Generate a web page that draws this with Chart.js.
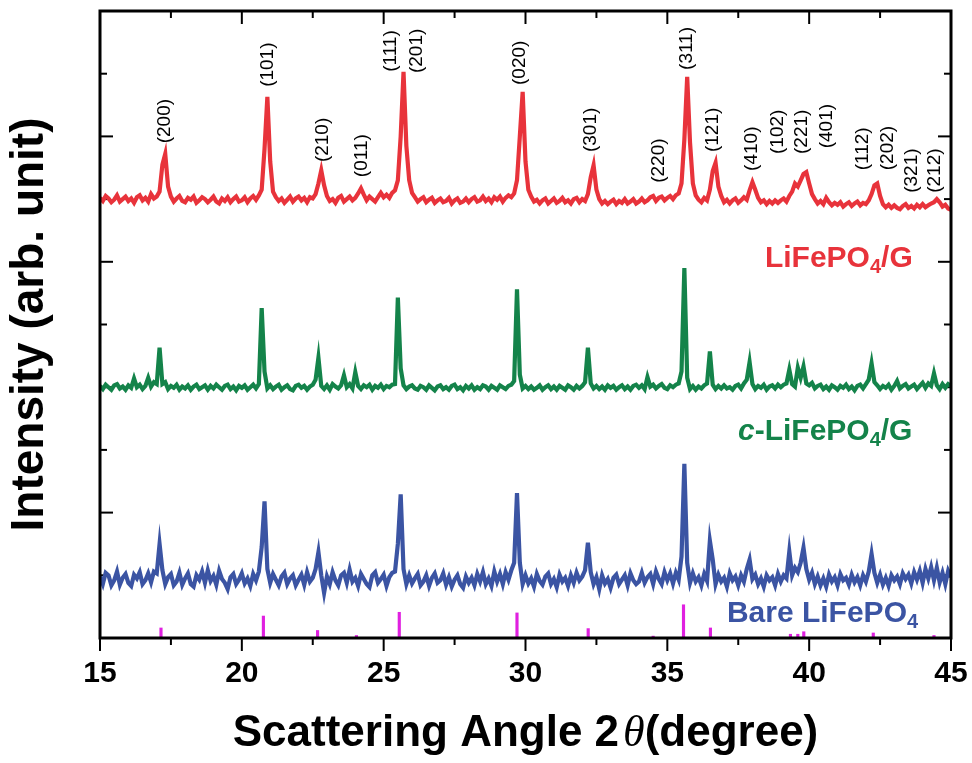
<!DOCTYPE html>
<html>
<head>
<meta charset="utf-8">
<script src="https://cdn.jsdelivr.net/npm/chart.js@4.4.0/dist/chart.umd.min.js"></script>
<style>
  html, body { margin: 0; padding: 0; background: #fff; }
</style>
</head>
<body>
<canvas id="xrd" width="972" height="763"></canvas>
<script>
// scan angles 2theta (deg), 0.1 deg step, one row per degree
const scanAngles = [
  15.0,15.1,15.2,15.3,15.4,15.5,15.6,15.7,15.8,15.9,
  16.0,16.1,16.2,16.3,16.4,16.5,16.6,16.7,16.8,16.9,
  17.0,17.1,17.2,17.3,17.4,17.5,17.6,17.7,17.8,17.9,
  18.0,18.1,18.2,18.3,18.4,18.5,18.6,18.7,18.8,18.9,
  19.0,19.1,19.2,19.3,19.4,19.5,19.6,19.7,19.8,19.9,
  20.0,20.1,20.2,20.3,20.4,20.5,20.6,20.7,20.8,20.9,
  21.0,21.1,21.2,21.3,21.4,21.5,21.6,21.7,21.8,21.9,
  22.0,22.1,22.2,22.3,22.4,22.5,22.6,22.7,22.8,22.9,
  23.0,23.1,23.2,23.3,23.4,23.5,23.6,23.7,23.8,23.9,
  24.0,24.1,24.2,24.3,24.4,24.5,24.6,24.7,24.8,24.9,
  25.0,25.1,25.2,25.3,25.4,25.5,25.6,25.7,25.8,25.9,
  26.0,26.1,26.2,26.3,26.4,26.5,26.6,26.7,26.8,26.9,
  27.0,27.1,27.2,27.3,27.4,27.5,27.6,27.7,27.8,27.9,
  28.0,28.1,28.2,28.3,28.4,28.5,28.6,28.7,28.8,28.9,
  29.0,29.1,29.2,29.3,29.4,29.5,29.6,29.7,29.8,29.9,
  30.0,30.1,30.2,30.3,30.4,30.5,30.6,30.7,30.8,30.9,
  31.0,31.1,31.2,31.3,31.4,31.5,31.6,31.7,31.8,31.9,
  32.0,32.1,32.2,32.3,32.4,32.5,32.6,32.7,32.8,32.9,
  33.0,33.1,33.2,33.3,33.4,33.5,33.6,33.7,33.8,33.9,
  34.0,34.1,34.2,34.3,34.4,34.5,34.6,34.7,34.8,34.9,
  35.0,35.1,35.2,35.3,35.4,35.5,35.6,35.7,35.8,35.9,
  36.0,36.1,36.2,36.3,36.4,36.5,36.6,36.7,36.8,36.9,
  37.0,37.1,37.2,37.3,37.4,37.5,37.6,37.7,37.8,37.9,
  38.0,38.1,38.2,38.3,38.4,38.5,38.6,38.7,38.8,38.9,
  39.0,39.1,39.2,39.3,39.4,39.5,39.6,39.7,39.8,39.9,
  40.0,40.1,40.2,40.3,40.4,40.5,40.6,40.7,40.8,40.9,
  41.0,41.1,41.2,41.3,41.4,41.5,41.6,41.7,41.8,41.9,
  42.0,42.1,42.2,42.3,42.4,42.5,42.6,42.7,42.8,42.9,
  43.0,43.1,43.2,43.3,43.4,43.5,43.6,43.7,43.8,43.9,
  44.0,44.1,44.2,44.3,44.4,44.5,44.6,44.7,44.8,44.9,
  45.0
];

// LiFePO4/G (offset intensity)
const redCounts = [
  7.02,6.97,7.05,7.01,6.95,6.99,7.06,6.96,7.00,7.04,
  6.97,7.01,6.94,7.03,7.06,6.98,7.02,6.96,7.08,7.01,
  7.04,7.12,7.55,7.72,7.20,7.04,6.96,7.01,7.05,6.97,
  6.95,7.02,6.99,7.04,6.94,6.98,7.03,7.00,6.95,6.99,
  7.04,6.96,6.93,7.01,6.97,7.03,6.95,7.00,7.04,6.96,
  6.98,7.03,6.95,7.01,7.05,6.99,7.06,7.15,7.80,8.63,
  7.60,7.12,7.03,6.97,7.01,6.94,6.99,7.04,6.96,7.01,
  7.04,6.98,7.02,6.95,7.03,7.01,7.08,7.25,7.46,7.22,
  7.05,6.97,7.00,6.94,7.02,7.05,6.96,7.00,7.04,6.98,
  7.02,7.09,7.17,7.07,6.98,7.04,7.00,6.96,7.03,7.10,
  7.03,7.07,7.02,7.10,7.14,7.30,8.00,9.03,7.85,7.30,
  7.10,7.03,6.96,7.00,7.03,6.95,6.99,7.02,6.94,6.98,
  7.01,6.95,6.97,7.02,6.93,6.98,7.01,6.94,6.96,7.01,
  6.95,7.00,7.03,6.96,6.98,7.04,6.97,7.01,6.95,7.03,
  6.99,7.04,6.96,7.02,7.06,7.03,7.09,7.30,8.00,8.71,
  7.60,7.15,7.04,6.96,6.99,6.93,6.98,7.01,6.93,6.97,
  7.01,6.94,6.97,7.02,6.95,6.98,6.93,7.00,7.02,6.95,
  7.00,6.97,7.08,7.35,7.54,7.15,7.00,6.93,6.97,6.92,
  6.96,6.99,6.92,6.97,6.94,7.00,6.93,6.96,7.00,6.93,
  6.96,7.01,6.95,6.98,7.03,7.05,6.97,7.02,7.04,6.98,
  7.02,7.05,7.00,7.06,7.09,7.25,7.95,8.95,7.90,7.25,
  7.06,6.99,6.95,7.02,6.98,7.15,7.45,7.58,7.20,7.05,
  6.95,6.99,6.93,6.98,7.01,6.94,6.98,7.03,6.99,7.14,
  7.27,7.15,7.02,6.95,6.98,6.92,6.97,6.93,6.98,6.94,
  6.98,7.01,6.96,7.05,7.12,7.25,7.20,7.30,7.40,7.43,
  7.25,7.08,7.00,6.93,6.97,6.92,7.02,6.95,6.90,6.94,
  6.91,6.95,6.88,6.92,6.95,6.89,6.93,6.96,6.90,6.94,
  6.92,6.98,7.08,7.22,7.25,7.05,6.92,6.87,6.91,6.86,
  6.90,6.86,6.84,6.89,6.92,6.86,6.89,6.85,6.91,6.87,
  6.92,6.87,6.90,6.93,6.95,7.00,6.95,6.88,6.91,6.85,
  6.83
];

// c-LiFePO4/G
const greenCounts = [
  4.02,3.97,4.04,4.00,3.96,4.03,4.05,3.98,4.01,3.96,
  4.03,3.99,4.14,4.00,4.04,3.97,4.02,4.15,4.01,4.08,
  4.05,4.63,4.05,4.08,3.97,4.02,3.99,4.04,3.96,4.01,
  3.98,4.03,3.96,4.01,4.04,3.97,4.00,4.03,3.96,4.02,
  3.98,4.04,4.00,3.96,4.02,4.04,3.97,4.01,3.95,4.02,
  3.99,4.03,3.96,4.00,4.04,3.98,4.05,5.26,4.25,3.98,
  4.03,3.97,4.01,4.04,3.96,4.00,4.03,3.97,3.95,4.02,
  4.04,3.99,4.02,3.96,4.01,4.04,4.12,4.47,4.02,3.97,
  4.03,3.96,4.05,4.01,3.98,4.03,4.19,4.00,4.05,3.98,
  4.24,4.02,3.97,4.03,4.00,4.04,3.96,4.02,3.99,4.04,
  3.97,4.02,4.00,4.04,4.05,5.43,4.30,4.03,3.97,4.01,
  4.03,3.98,3.96,4.02,4.00,3.96,4.03,3.99,3.95,4.01,
  4.03,3.97,4.00,3.96,4.02,4.04,3.97,4.00,3.95,4.02,
  3.98,4.03,3.96,4.00,3.97,4.03,4.01,3.96,4.02,3.99,
  3.96,4.03,4.00,3.97,4.02,4.04,4.10,5.56,4.20,3.98,
  4.02,3.97,4.01,3.96,3.99,4.03,3.96,4.00,4.03,3.97,
  4.01,3.96,4.02,3.99,3.96,4.03,4.00,3.96,4.02,3.98,
  4.02,4.08,4.63,4.06,3.98,4.02,3.97,4.01,3.96,4.03,
  3.99,4.02,3.96,4.00,4.03,3.97,4.01,3.96,4.02,4.04,
  3.99,4.03,3.97,4.16,4.01,4.04,3.98,4.02,4.05,3.99,
  3.97,4.03,4.00,4.04,4.06,4.25,5.90,4.15,3.97,4.02,
  3.96,4.01,3.98,4.03,4.06,4.57,4.04,3.97,4.02,3.98,
  4.03,3.98,4.00,3.96,4.02,4.04,3.98,4.06,4.12,4.40,
  4.05,3.97,4.02,3.99,4.04,3.96,4.01,4.03,3.98,4.04,
  4.00,4.04,4.06,4.28,4.05,4.01,4.31,4.15,4.33,4.06,
  4.03,4.07,3.98,4.02,4.04,3.97,4.01,3.96,4.03,4.00,
  3.96,4.02,3.99,4.04,3.97,4.01,3.95,4.02,4.04,3.98,
  4.05,4.12,4.38,4.08,4.03,3.97,4.02,3.99,4.04,3.96,
  4.02,4.10,3.98,4.02,4.05,3.98,4.01,4.04,3.97,4.02,
  4.07,3.99,4.06,4.02,4.22,4.03,3.97,4.05,3.99,4.05,
  4.02
];

// Bare LiFePO4
const blueCounts = [
  0.98,0.86,1.04,1.00,0.84,0.92,1.06,0.85,0.96,1.02,
  0.88,0.83,1.01,0.95,1.05,0.86,0.92,1.03,0.89,1.06,
  1.03,1.50,1.08,0.86,0.97,1.02,0.84,0.90,1.04,0.85,
  0.95,1.03,0.86,0.82,1.00,0.93,1.06,0.88,1.08,0.91,
  0.99,0.85,1.07,0.94,0.88,0.78,0.97,1.02,0.86,0.93,
  1.03,0.87,0.95,0.83,1.02,0.92,1.06,1.45,2.18,1.10,
  0.88,1.02,0.93,0.84,0.98,1.04,0.86,0.95,1.00,0.84,
  0.93,1.01,0.85,1.05,0.90,0.96,1.10,1.37,1.00,0.72,
  0.98,0.86,1.05,0.92,0.84,1.00,1.04,0.88,1.09,0.90,
  0.96,0.83,1.02,0.94,0.86,0.81,1.00,1.05,0.88,0.94,
  1.01,0.83,0.97,1.04,1.06,1.50,2.29,1.10,0.86,1.00,
  0.87,0.95,1.02,0.84,0.90,1.00,0.83,0.96,1.03,0.88,
  0.92,1.03,0.85,0.97,0.82,0.93,1.00,0.86,0.80,0.98,
  0.88,0.96,0.84,1.02,0.90,1.05,0.86,0.95,0.83,1.06,
  0.90,1.02,0.86,1.05,0.93,1.08,1.20,2.31,1.20,0.86,
  1.00,0.87,0.95,0.82,1.02,0.91,0.85,0.98,1.03,0.86,
  0.94,0.81,1.01,0.90,0.96,0.83,1.00,0.88,1.04,0.92,
  0.98,1.08,1.52,1.05,0.86,0.97,0.78,1.00,0.87,0.94,
  0.80,0.96,1.01,0.86,0.93,1.00,0.84,1.03,0.92,0.86,
  0.90,1.04,0.88,0.97,1.02,0.86,1.06,0.94,0.86,1.05,
  0.92,1.03,0.87,1.04,0.93,1.30,2.78,1.20,0.88,1.03,
  0.90,0.97,0.84,1.02,0.91,1.55,1.25,0.86,1.01,0.90,
  0.96,0.82,1.03,0.92,0.98,0.84,1.00,0.90,1.10,1.25,
  0.94,1.01,0.86,0.95,0.82,1.00,0.92,0.97,0.84,1.02,
  0.90,1.00,0.95,1.38,1.00,1.12,1.05,1.20,1.44,1.10,
  0.93,1.04,0.86,0.98,0.84,0.95,0.82,1.01,0.90,0.97,
  0.84,1.02,0.92,0.96,0.85,1.01,0.89,0.97,0.84,1.00,
  0.90,1.06,1.34,1.04,0.88,1.01,0.85,0.96,0.83,1.00,
  0.92,0.98,0.86,1.03,0.94,1.01,0.87,1.05,0.93,1.07,
  0.88,1.10,0.95,1.13,0.92,1.12,0.89,1.04,0.86,1.07,
  0.97
];

// reference pattern sticks (LiFePO4)
const stickAngles = [17.15, 20.76, 22.67, 24.04, 25.55, 29.70, 32.21, 34.50, 35.57, 36.52, 39.34, 39.60, 39.81, 42.26, 44.40];
const stickHeights = [0.16, 0.35, 0.12, 0.04, 0.41, 0.40, 0.15, 0.03, 0.53, 0.16, 0.06, 0.06, 0.10, 0.08, 0.04];

// Miller index labels: angle and level (y units) where the text starts
const hklNames = ['(200)', '(101)', '(210)', '(011)', '(111)', '(201)', '(020)', '(301)', '(220)', '(311)', '(121)', '(410)', '(102)', '(221)', '(401)', '(112)', '(202)', '(321)', '(212)'];
const hklAngles = [17.29, 20.92, 22.86, 24.24, 25.26, 26.16, 29.80, 32.30, 34.70, 35.68, 36.61, 37.97, 38.90, 39.73, 40.61, 41.88, 42.77, 43.61, 44.43];
const hklLevels = [7.89, 8.79, 7.59, 7.35, 9.03, 9.01, 8.82, 7.75, 7.26, 9.06, 7.75, 7.45, 7.72, 7.72, 7.81, 7.46, 7.46, 7.10, 7.10];

const angleTicks = [15, 17.5, 20, 22.5, 25, 27.5, 30, 32.5, 35, 37.5, 40, 42.5, 45];
const levelTicks = [0, 1, 2, 3, 4, 5, 6, 7, 8, 9, 10];

const RED = '#e8333b';
const GREEN = '#14834a';
const BLUE = '#3b54a3';
const MAGENTA = '#e020e0';
const FONT = '"Liberation Sans", Arial, sans-serif';

// sample names, each with a subscript 4
const sampleLabels = [
  {parts: [['LiFePO', ''], ['4', 'sub'], ['/G', '']], color: RED, angle: 38.44, level: 5.92},
  {parts: [['c', 'italic'], ['-LiFePO', ''], ['4', 'sub'], ['/G', '']], color: GREEN, angle: 37.49, level: 3.16},
  {parts: [['Bare LiFePO', ''], ['4', 'sub']], color: BLUE, angle: 37.10, level: 0.26}
];

function drawParts(ctx, parts, x, y, size) {
  parts.forEach(([t, kind]) => {
    let dy = 0;
    if (kind === 'sub') {
      ctx.font = 'bold ' + Math.round(size * 0.68) + 'px ' + FONT;
      dy = size * 0.22;
    } else if (kind === 'italic') {
      ctx.font = 'italic bold ' + size + 'px ' + FONT;
    } else {
      ctx.font = 'bold ' + size + 'px ' + FONT;
    }
    ctx.fillText(t, x, y + dy);
    x += ctx.measureText(t).width;
  });
}

function seg(ctx, x1, y1, x2, y2) {
  ctx.beginPath();
  ctx.moveTo(x1, y1);
  ctx.lineTo(x2, y2);
  ctx.stroke();
}

const framePlugin = {
  id: 'frame',
  beforeDatasetsDraw(chart) {
    const {ctx, chartArea: a, scales: {x, y}} = chart;
    ctx.save();
    ctx.strokeStyle = '#000';
    ctx.lineWidth = 2;
    angleTicks.forEach(v => {
      const px = x.getPixelForValue(v);
      const len = v % 5 === 0 ? 13 : 7;
      seg(ctx, px, a.bottom, px, a.bottom + len);
      seg(ctx, px, a.top, px, a.top + len);
    });
    levelTicks.forEach(v => {
      const py = y.getPixelForValue(v);
      const len = v % 2 === 0 ? 13 : 7;
      seg(ctx, a.left, py, a.left + len, py);
      seg(ctx, a.right, py, a.right - len, py);
    });
    ctx.restore();
  },
  afterDatasetsDraw(chart) {
    const {ctx, chartArea: a} = chart;
    ctx.save();
    ctx.strokeStyle = '#000';
    ctx.lineWidth = 3;
    ctx.strokeRect(a.left, a.top, a.right - a.left, a.bottom - a.top);
    ctx.restore();
  },
  afterDraw(chart) {
    const {ctx, chartArea: a, scales: {x, y}} = chart;
    ctx.save();
    // hkl labels, rotated
    ctx.fillStyle = '#000';
    ctx.font = '19px ' + FONT;
    ctx.textAlign = 'left';
    ctx.textBaseline = 'middle';
    hklNames.forEach((name, i) => {
      ctx.save();
      ctx.translate(x.getPixelForValue(hklAngles[i]), y.getPixelForValue(hklLevels[i]));
      ctx.rotate(-Math.PI / 2);
      ctx.fillText(name, 0, 0);
      ctx.restore();
    });
    // sample names
    ctx.textBaseline = 'alphabetic';
    sampleLabels.forEach(s => {
      ctx.fillStyle = s.color;
      drawParts(ctx, s.parts, x.getPixelForValue(s.angle), y.getPixelForValue(s.level), 30);
    });
    // x axis title with italic theta
    ctx.fillStyle = '#000';
    const size = 44;
    const pieces = [
      ['Scattering Angle 2', 'bold ' + size + 'px ' + FONT, 4],
      ['\u03b8', 'italic ' + size + 'px "Liberation Serif", "Times New Roman", serif', 0],
      ['(degree)', 'bold ' + size + 'px ' + FONT, 0]
    ];
    let total = 0;
    pieces.forEach(p => { ctx.font = p[1]; total += ctx.measureText(p[0]).width + p[2]; });
    let px = (a.left + a.right) / 2 - total / 2;
    pieces.forEach(p => {
      ctx.font = p[1];
      ctx.fillText(p[0], px, 746);
      px += ctx.measureText(p[0]).width + p[2];
    });
    ctx.restore();
  }
};

const lineSet = (label, counts, color) => ({
  type: 'line',
  label: label,
  data: scanAngles.map((a, i) => ({x: a, y: counts[i]})),
  borderColor: color,
  borderWidth: 4.2,
  pointRadius: 0,
  tension: 0,
  fill: false
});

new Chart(document.getElementById('xrd'), {
  data: {
    datasets: [
      lineSet('LiFePO4/G', redCounts, RED),
      lineSet('c-LiFePO4/G', greenCounts, GREEN),
      lineSet('Bare LiFePO4', blueCounts, BLUE),
      {
        type: 'bar',
        label: 'LiFePO4 reference',
        data: stickAngles.map((a, i) => ({x: a, y: stickHeights[i]})),
        backgroundColor: MAGENTA,
        barThickness: 2.5
      }
    ]
  },
  options: {
    responsive: false,
    animation: false,
    layout: {padding: {top: 11, right: 21, left: 0, bottom: 0}},
    plugins: {legend: {display: false}, tooltip: {enabled: false}},
    scales: {
      x: {
        type: 'linear', min: 15, max: 45, offset: false,
        grid: {display: false, drawTicks: false},
        border: {display: false},
        ticks: {stepSize: 5, padding: 18, color: '#000', font: {family: FONT, size: 30, weight: 'bold'}},
        afterFit: s => { s.height = 125; s.paddingLeft = 0; s.paddingRight = 0; }
      },
      y: {
        type: 'linear', min: 0, max: 10,
        grid: {display: false, drawTicks: false},
        border: {display: false},
        ticks: {display: false},
        title: {display: true, text: 'Intensity (arb. unit)', color: '#000', font: {family: FONT, size: 46, weight: 'bold'}, padding: {top: 3, bottom: 0}},
        afterFit: s => { s.width = 100; }
      }
    }
  },
  plugins: [framePlugin]
});
</script>
</body>
</html>
